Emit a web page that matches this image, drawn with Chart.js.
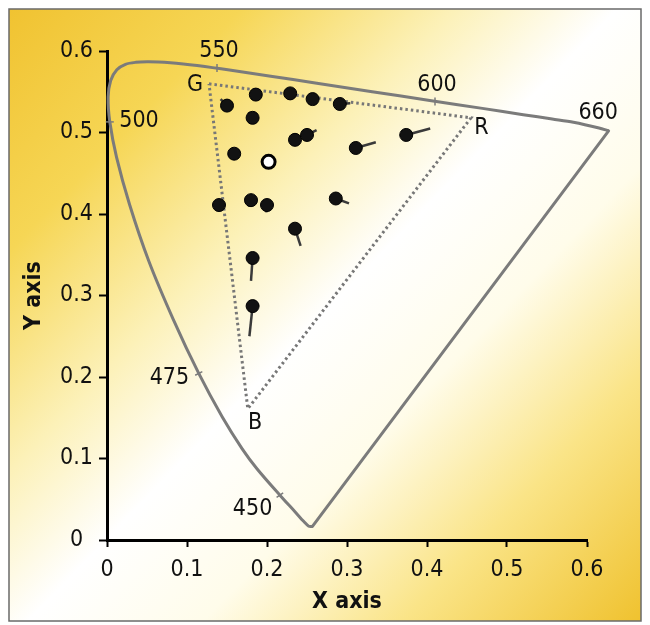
<!DOCTYPE html>
<html>
<head>
<meta charset="utf-8">
<script src="https://cdn.jsdelivr.net/npm/chart.js@4"></script>
<style>
  html, body { margin: 0; padding: 0; background: #fff; }
  #wrap { width: 650px; height: 625px; }
</style>
</head>
<body>
<div id="wrap"><canvas id="chart" width="650" height="625"></canvas></div>
<script>
// spectral locus (u', v'), 380 nm to 700 nm
const locusU = [0.2568, 0.2522, 0.2461, 0.2347, 0.2161, 0.1877, 0.1690, 0.1441, 0.1147, 0.0828, 0.0521, 0.0282, 0.0119, 0.0035, 0.0014, 0.0046, 0.0123, 0.0231, 0.0360, 0.0501, 0.0643, 0.0792, 0.0953, 0.1127, 0.1319, 0.1531, 0.2026, 0.2623, 0.3315, 0.4035, 0.4692, 0.5203, 0.5565, 0.5830, 0.6150, 0.6270];
const locusV = [0.0166, 0.0169, 0.0226, 0.0350, 0.0550, 0.0871, 0.1119, 0.1510, 0.2044, 0.2708, 0.3427, 0.4117, 0.4698, 0.5131, 0.5432, 0.5638, 0.5770, 0.5837, 0.5861, 0.5868, 0.5865, 0.5856, 0.5841, 0.5821, 0.5796, 0.5766, 0.5694, 0.5604, 0.5501, 0.5393, 0.5296, 0.5219, 0.5165, 0.5125, 0.5055, 0.5020];
// straight line closing the locus
const purpleU = [0.6270, 0.2568];
const purpleV = [0.5020, 0.0166];

// wavelength marks on the locus
const wlText = ['550', '600', '660', '500', '475', '450'];
const wlU = [0.1375, 0.410, 0.615, 0.0035, 0.1147, 0.2161];
const wlV = [0.579, 0.538, 0.5055, 0.513, 0.2044, 0.055];
const wlRot = [90, 90, 90, 0, -27, -35];
const wlLabelU = [0.140, 0.4125, 0.614, 0.040, 0.078, 0.182];
const wlLabelV = [0.600, 0.558, 0.524, 0.514, 0.199, 0.038];

// display gamut triangle G, R, B
const triText = ['G', 'R', 'B'];
const triU = [0.1275, 0.455, 0.176];
const triV = [0.5597, 0.518, 0.161];
const triLabelU = [0.110, 0.468, 0.185];
const triLabelV = [0.558, 0.506, 0.144];

// measured points and where their tails end
const dotU = [0.150, 0.186, 0.229, 0.257, 0.291, 0.182, 0.235, 0.250, 0.311, 0.159, 0.140, 0.180, 0.200, 0.286, 0.235, 0.182, 0.182, 0.374];
const dotV = [0.533, 0.5465, 0.548, 0.541, 0.535, 0.518, 0.491, 0.497, 0.481, 0.474, 0.411, 0.417, 0.411, 0.419, 0.382, 0.346, 0.287, 0.497];
const tailU = [0.142, null, null, 0.262, 0.304, 0.177, null, 0.262, 0.336, null, 0.143, 0.177, 0.199, 0.3025, 0.242, 0.180, 0.178, 0.404];
const tailV = [0.541, null, null, 0.540, 0.536, 0.525, null, 0.503, 0.488, null, 0.404, 0.409, 0.402, 0.413, 0.361, 0.318, 0.250, 0.505];

// the reference white (open circle)
const whiteU = [0.202];
const whiteV = [0.464];

const FONT = "'Liberation Sans Narrow', 'DejaVu Sans Condensed', 'Arial Narrow', sans-serif";

const pts = (us, vs) => us.map((u, i) => ({ x: u, y: vs[i] }));

const tailSets = [];
dotU.forEach((u, i) => {
    if (tailU[i] === null) return;
    tailSets.push({
        type: 'line',
        data: [{ x: u, y: dotV[i] }, { x: tailU[i], y: tailV[i] }],
        borderColor: '#3a3a3a',
        borderWidth: 2.5,
        pointRadius: 0,
        order: 1
    });
});

const backdrop = {
    id: 'backdrop',
    beforeDraw(chart) {
        const ctx = chart.ctx;
        ctx.save();
        ctx.fillStyle = '#ffffff';
        ctx.fillRect(0, 0, 650, 625);
        const g = ctx.createLinearGradient(0, 0, 650, 625);
        g.addColorStop(0, '#f0c12e');
        g.addColorStop(0.2, '#f6d655');
        g.addColorStop(0.37, '#fcf1b8');
        g.addColorStop(0.5, '#ffffff');
        g.addColorStop(0.64, '#fffcea');
        g.addColorStop(0.8, '#fae487');
        g.addColorStop(1, '#efc02a');
        ctx.fillStyle = g;
        ctx.fillRect(9, 9, 632, 612);
        ctx.strokeStyle = '#6a6a6a';
        ctx.lineWidth = 1.5;
        ctx.strokeRect(9, 9, 632, 612);
        ctx.restore();
    }
};

const textMarks = {
    id: 'textMarks',
    afterDatasetsDraw(chart) {
        const { ctx, scales: { x, y } } = chart;
        ctx.save();
        ctx.fillStyle = '#111';
        ctx.font = '23px ' + FONT;
        ctx.textAlign = 'center';
        ctx.textBaseline = 'middle';
        wlText.forEach((t, i) => {
            ctx.fillText(t, x.getPixelForValue(wlLabelU[i]), y.getPixelForValue(wlLabelV[i]));
        });
        triText.forEach((t, i) => {
            ctx.fillText(t, x.getPixelForValue(triLabelU[i]), y.getPixelForValue(triLabelV[i]));
        });
        ctx.restore();
    }
};

new Chart(document.getElementById('chart'), {
    type: 'scatter',
    data: {
        datasets: [
            {
                data: pts(dotU, dotV),
                backgroundColor: '#121212',
                borderColor: '#000',
                borderWidth: 1,
                pointRadius: 6.5,
                order: 0
            },
            {
                data: pts(whiteU, whiteV),
                backgroundColor: '#fff',
                borderColor: '#000',
                borderWidth: 3,
                pointRadius: 6.5,
                order: 0
            },
            ...tailSets,
            {
                type: 'line',
                data: pts(triU.concat(triU[0]), triV.concat(triV[0])),
                borderColor: '#777',
                borderWidth: 3,
                borderDash: [2.5, 3],
                pointRadius: 0,
                order: 2
            },
            {
                type: 'line',
                data: pts(locusU, locusV),
                borderColor: '#7b7b7b',
                borderWidth: 3,
                tension: 0.3,
                pointRadius: 0,
                clip: false,
                order: 3
            },
            {
                type: 'line',
                data: pts(purpleU, purpleV),
                borderColor: '#7b7b7b',
                borderWidth: 3,
                borderCapStyle: 'round',
                pointRadius: 0,
                clip: false,
                order: 3
            },
            {
                data: pts(wlU, wlV),
                pointStyle: 'line',
                rotation: wlRot,
                pointRadius: 4,
                borderColor: '#7b7b7b',
                borderWidth: 1.5,
                clip: false,
                order: 3
            }
        ]
    },
    options: {
        responsive: false,
        animation: false,
        layout: { padding: { left: 0, top: 51, right: 63, bottom: 0 } },
        plugins: { legend: { display: false }, tooltip: { enabled: false } },
        scales: {
            x: {
                type: 'linear',
                min: 0,
                max: 0.6,
                afterFit: (s) => { s.height = 85; },
                border: { display: true, color: '#000', width: 3 },
                grid: { drawOnChartArea: false, tickLength: 7, tickWidth: 2, tickColor: '#000' },
                ticks: { stepSize: 0.1, padding: 9, color: '#111', font: { family: FONT, size: 23 } },
                title: { display: true, text: 'X axis', color: '#111', padding: { bottom: 9 }, font: { family: FONT, size: 23, weight: 'bold' } }
            },
            y: {
                type: 'linear',
                min: 0,
                max: 0.6,
                afterFit: (s) => { s.width = 107; },
                border: { display: true, color: '#000', width: 3 },
                grid: { drawOnChartArea: false, tickLength: 8, tickWidth: 2, tickColor: '#000' },
                ticks: { stepSize: 0.1, padding: 6, crossAlign: 'center', color: '#111', font: { family: FONT, size: 23 } },
                title: { display: true, text: 'Y axis', color: '#111', padding: { top: 20 }, font: { family: FONT, size: 23, weight: 'bold' } }
            }
        }
    },
    plugins: [backdrop, textMarks]
});
</script>
</body>
</html>
